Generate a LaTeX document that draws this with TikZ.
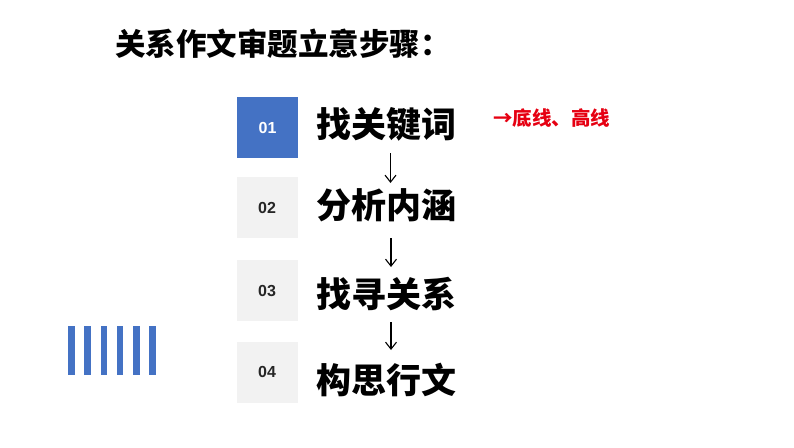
\documentclass[tikz,border=0pt]{standalone}
\usepackage{fontspec}
\setmainfont{Liberation Sans}
\newfontfamily\cjk{Noto Sans CJK SC}[BoldFont={Noto Sans CJK SC Black}]
\usetikzlibrary{arrows.meta}
\definecolor{boxblue}{HTML}{4472C4}
\definecolor{boxgray}{HTML}{F2F2F2}
\definecolor{redtxt}{HTML}{E60012}
\definecolor{numdark}{HTML}{262626}
\begin{document}
\begin{tikzpicture}[x=1pt,y=-1pt,
  numbox/.style={minimum width=61pt,minimum height=61pt,inner sep=0pt,draw=none,font=\fontsize{16}{19}\selectfont\bfseries},
  steptext/.style={font=\cjk\bfseries\fontsize{35}{40}\selectfont,inner sep=0pt},
  titletext/.style={font=\cjk\bfseries\fontsize{30.5}{36}\selectfont,inner sep=0pt,anchor=west},
  notetext/.style={font=\cjk\bfseries\fontsize{19.5}{24}\selectfont,inner sep=0pt,anchor=west,text=redtxt},
  flowarrow/.style={line width=1.1pt,-{Straight Barb[length=7pt,width=11pt]}},
  barshape/.style={fill=boxblue,draw=none}]
\useasboundingbox (0,0) rectangle (794,447);
\fill[white] (0,0) rectangle (794,447);

\node[titletext] (title) at (115,43.5) {关系作文审题立意步骤：};

\node[numbox,fill=boxblue,text=white] (b1) at (267.5,127.5) {01};
\node[numbox,fill=boxgray,text=numdark] (b2) at (267,207.5) {02};
\node[numbox,fill=boxgray,text=numdark] (b3) at (267,290.5) {03};
\node[numbox,fill=boxgray,text=numdark] (b4) at (267,372) {04};

\node[steptext] (t1) at (386,124) {找关键词};
\node[steptext] (t2) at (386,205) {分析内涵};
\node[steptext] (t3) at (386,294) {找寻关系};
\node[steptext] (t4) at (386,380) {构思行文};

\node[notetext] (note) at (493,118.5) {→底线、高线};

\draw[flowarrow,shorten <=29pt,shorten >=22pt] ([xshift=4.5pt]t1.center) -- ([xshift=4.5pt]t2.center);
\draw[flowarrow,shorten <=33pt,shorten >=27pt] ([xshift=5pt]t2.center) -- ([xshift=5pt]t3.center);
\draw[flowarrow,shorten <=28pt,shorten >=30pt] ([xshift=5pt]t3.center) -- ([xshift=5pt]t4.center);

\foreach \i in {0,...,5}
  \fill[barshape] (68+\i*16.25,326) rectangle ++(6.5,49);
\end{tikzpicture}
\end{document}
